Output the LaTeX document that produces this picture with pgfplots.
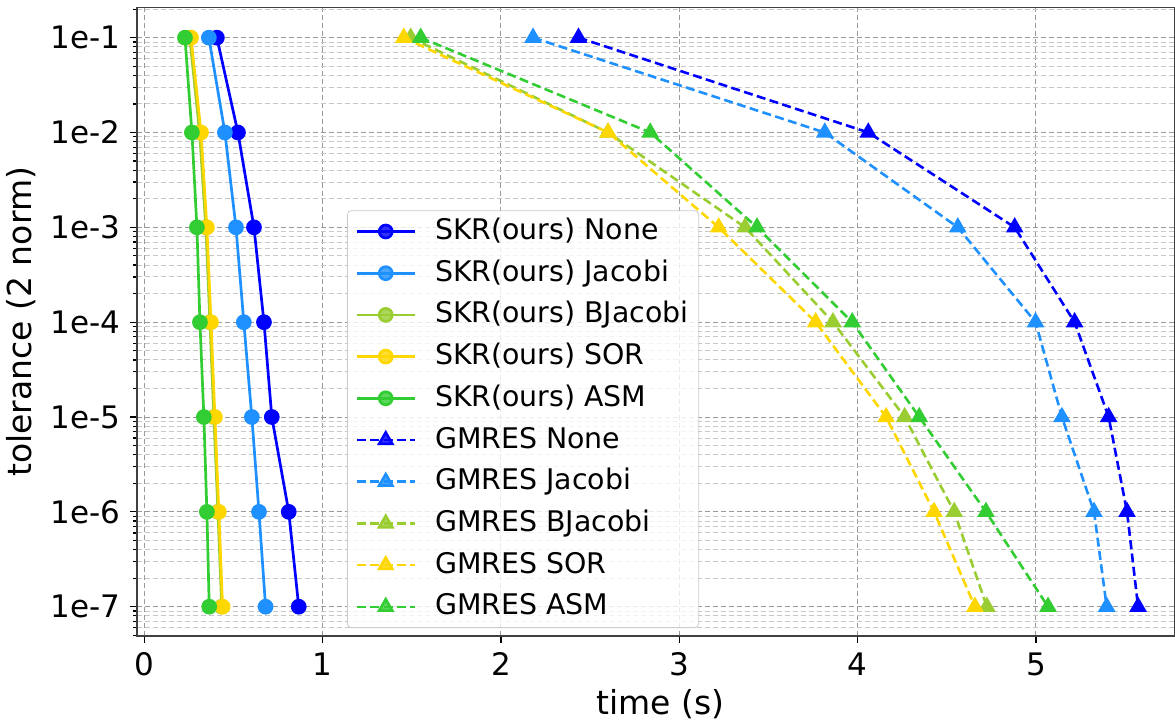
\documentclass[border=0pt]{standalone}
\usepackage{fontspec}
\setmainfont{DejaVu Sans}
\usepackage{pgfplots}
\pgfplotsset{compat=1.18}
\definecolor{cNone}{HTML}{0000FF}
\definecolor{cJac}{HTML}{1E90FF}
\definecolor{cBJ}{HTML}{9ACD32}
\definecolor{cSOR}{HTML}{FFD700}
\definecolor{cASM}{HTML}{32CD32}
\begin{document}
\fontsize{14.2}{16}\selectfont
\begin{tikzpicture}
\useasboundingbox (-68.5pt,-42.5pt) rectangle (519pt,318pt);
\begin{axis}[
  at={(0,0)}, anchor=south west,
  scale only axis, width=519pt, height=314.25pt,
  xmin=-0.041, xmax=5.78,
  ymode=log, ymin=4.91e-8, ymax=0.208,
  xtick={0,1,2,3,4,5},
  ytick={1e-1,1e-2,1e-3,1e-4,1e-5,1e-6,1e-7},
  yticklabels={1e-1,1e-2,1e-3,1e-4,1e-5,1e-6,1e-7},
  minor ytick={5e-8,6e-8,7e-8,8e-8,9e-8,
    2e-7,3e-7,4e-7,5e-7,6e-7,7e-7,8e-7,9e-7,
    2e-6,3e-6,4e-6,5e-6,6e-6,7e-6,8e-6,9e-6,
    2e-5,3e-5,4e-5,5e-5,6e-5,7e-5,8e-5,9e-5,
    2e-4,3e-4,4e-4,5e-4,6e-4,7e-4,8e-4,9e-4,
    2e-3,3e-3,4e-3,5e-3,6e-3,7e-3,8e-3,9e-3,
    2e-2,3e-2,4e-2,5e-2,6e-2,7e-2,8e-2,9e-2,2e-1},
  /pgf/number format/assume math mode=true,
  tick label style={font=\fontsize{15.5}{18}\selectfont},
  tick align=outside, tick pos=left,
  major tick length=3.5pt, minor tick length=2pt,
  every tick/.style={black, line width=0.6pt},
  axis line style={black!75, line width=0.9pt},
  xmajorgrids=true, ymajorgrids=true, yminorgrids=true,
  major grid style={black!40, line width=0.5pt, dash pattern=on 2.5pt off 1.5pt},
  minor grid style={black!22, line width=0.5pt, dash pattern=on 2.5pt off 1.5pt},
  xlabel={time (s)}, ylabel={tolerance (2 norm)},
  label style={font=\fontsize{16.5}{19}\selectfont},
  xlabel style={at={(axis description cs:0.504,-0.108)}, anchor=center},
  ylabel style={at={(axis description cs:-0.1118,0.5)}, anchor=center},
  legend cell align=left,
  legend style={at={(0.2023,0.0127)}, anchor=south west, draw=black!20,
    rounded corners=2pt, fill=white, fill opacity=0.8, text opacity=1,
    inner xsep=4pt, inner ysep=2.4pt, row sep=4.85pt,
    nodes={inner sep=1pt, text height=11pt, text depth=3pt}},
  legend image code/.code={\draw[mark repeat=2, mark phase=2] plot coordinates {(0pt,0pt) (14.5pt,0pt) (29pt,0pt)};\path (37.5pt,0pt);},
  skr/.style={solid, line width=1.35pt, mark=*, mark size=3.25pt, mark options={solid}},
  gm/.style={line width=1.3pt, dash pattern=on 4.5pt off 2.2pt, mark=triangle*, mark size=3.8pt, mark options={solid}},
]
\addplot[skr, color=cNone] coordinates {(0.407,1e-1) (0.525,1e-2) (0.615,1e-3) (0.671,1e-4) (0.715,1e-5) (0.810,1e-6) (0.866,1e-7)};
\addlegendentry{SKR(ours) None}
\addplot[skr, color=cJac] coordinates {(0.362,1e-1) (0.452,1e-2) (0.514,1e-3) (0.558,1e-4) (0.603,1e-5) (0.643,1e-6) (0.680,1e-7)};
\addlegendentry{SKR(ours) Jacobi}
\addplot[skr, color=cBJ] coordinates {(0.255,1e-1) (0.310,1e-2) (0.345,1e-3) (0.368,1e-4) (0.390,1e-5) (0.413,1e-6) (0.434,1e-7)};
\addlegendentry{SKR(ours) BJacobi}
\addplot[skr, color=cSOR] coordinates {(0.262,1e-1) (0.318,1e-2) (0.351,1e-3) (0.374,1e-4) (0.396,1e-5) (0.418,1e-6) (0.439,1e-7)};
\addlegendentry{SKR(ours) SOR}
\addplot[skr, color=cASM] coordinates {(0.228,1e-1) (0.267,1e-2) (0.295,1e-3) (0.312,1e-4) (0.334,1e-5) (0.351,1e-6) (0.364,1e-7)};
\addlegendentry{SKR(ours) ASM}
\addplot[gm, color=cNone] coordinates {(2.435,1e-1) (4.060,1e-2) (4.881,1e-3) (5.217,1e-4) (5.408,1e-5) (5.511,1e-6) (5.573,1e-7)};
\addlegendentry{GMRES None}
\addplot[gm, color=cJac] coordinates {(2.180,1e-1) (3.816,1e-2) (4.562,1e-3) (4.998,1e-4) (5.146,1e-5) (5.326,1e-6) (5.397,1e-7)};
\addlegendentry{GMRES Jacobi}
\addplot[gm, color=cBJ] coordinates {(1.494,1e-1) (2.600,1e-2) (3.369,1e-3) (3.862,1e-4) (4.264,1e-5) (4.542,1e-6) (4.725,1e-7)};
\addlegendentry{GMRES BJacobi}
\addplot[gm, color=cSOR] coordinates {(1.455,1e-1) (2.601,1e-2) (3.221,1e-3) (3.765,1e-4) (4.160,1e-5) (4.429,1e-6) (4.658,1e-7)};
\addlegendentry{GMRES SOR}
\addplot[gm, color=cASM] coordinates {(1.550,1e-1) (2.837,1e-2) (3.436,1e-3) (3.970,1e-4) (4.346,1e-5) (4.720,1e-6) (5.068,1e-7)};
\addlegendentry{GMRES ASM}
\end{axis}
\end{tikzpicture}
\end{document}
